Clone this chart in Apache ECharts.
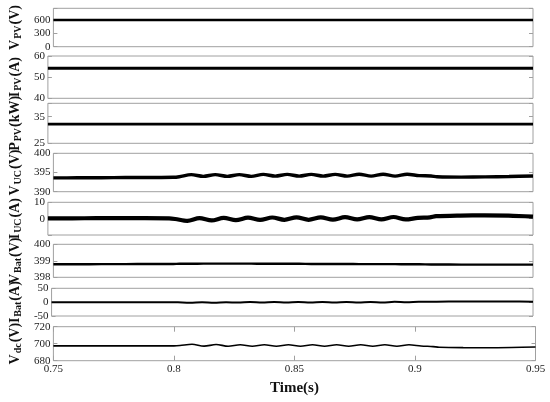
<!DOCTYPE html>
<html>
<head>
<meta charset="utf-8">
<script src="https://cdn.jsdelivr.net/npm/echarts@6/dist/echarts.min.js"></script>
<style>html,body{margin:0;padding:0;background:#fff}#c{width:550px;height:402px}</style>
</head>
<body>
<div id="c"></div>
<script>
const time = [0.75, 0.76, 0.77, 0.78, 0.79, 0.80, 0.8025,
  0.8075, 0.8125, 0.8175, 0.8225, 0.8275, 0.8325, 0.8375, 0.8425, 0.8475, 0.8525,
  0.8575, 0.8625, 0.8675, 0.8725, 0.8775, 0.8825, 0.8875, 0.8925, 0.8975,
  0.9025, 0.9075, 0.91, 0.92, 0.93, 0.94, 0.95];

const vPV = [600, 600, 600, 600, 600, 600, 600,
  600, 600, 600, 600, 600, 600, 600, 600, 600, 600,
  600, 600, 600, 600, 600, 600, 600, 600, 600,
  600, 600, 600, 600, 600, 600, 600];

const iPV = [54.2, 54.2, 54.2, 54.2, 54.2, 54.2, 54.2,
  54.2, 54.2, 54.2, 54.2, 54.2, 54.2, 54.2, 54.2, 54.2, 54.2,
  54.2, 54.2, 54.2, 54.2, 54.2, 54.2, 54.2, 54.2, 54.2,
  54.2, 54.2, 54.2, 54.2, 54.2, 54.2, 54.2];

const pPV = [32.2, 32.2, 32.2, 32.2, 32.2, 32.2, 32.2,
  32.2, 32.2, 32.2, 32.2, 32.2, 32.2, 32.2, 32.2, 32.2, 32.2,
  32.2, 32.2, 32.2, 32.2, 32.2, 32.2, 32.2, 32.2, 32.2,
  32.2, 32.2, 32.2, 32.2, 32.2, 32.2, 32.2];

const vUC = [393.6, 393.62, 393.65, 393.68, 393.7, 393.75, 393.9,
  394.45, 394.0, 394.45, 394.0, 394.45, 394.0, 394.5, 394.05, 394.5, 394.05,
  394.5, 394.05, 394.5, 394.05, 394.55, 394.05, 394.55, 394.05, 394.55,
  394.2, 394.1, 393.9, 393.8, 393.85, 393.95, 394.1];

const iUC = [0.2, 0.2, 0.3, 0.3, 0.3, 0.2, -0.2,
  -1.4, 0.3, -1.1, 0.5, -0.9, 0.6, -0.8, 0.7, -0.7, 0.8,
  -0.7, 0.8, -0.6, 0.9, -0.5, 0.9, -0.5, 1.0, -0.5,
  0.5, 0.8, 1.5, 1.9, 2.0, 1.8, 1.2];

const vBat = [398.79, 398.79, 398.8, 398.8, 398.81, 398.81, 398.82,
  398.82, 398.83, 398.83, 398.83, 398.83, 398.83, 398.82, 398.82, 398.82, 398.82,
  398.81, 398.81, 398.81, 398.81, 398.8, 398.8, 398.8, 398.8, 398.79,
  398.79, 398.78, 398.78, 398.77, 398.77, 398.77, 398.77];

const iBat = [0, 0, 0, 0, 0, 0, -0.5,
  -2.5, -0.5, -2.0, 0, -1.7, 0.3, -1.5, 0.5, -1.3, 0.6,
  -1.2, 0.7, -1.1, 0.8, -1.0, 0.9, -1.0, 1.0, -0.8,
  1.0, 1.2, 1.8, 2.2, 2.4, 2.2, 1.6];

const vDC = [697.5, 697.4, 697.5, 697.4, 697.4, 697.4, 697.8,
  699.4, 697.1, 699.0, 697.0, 698.8, 697.0, 698.8, 697.0, 698.8, 697.0,
  698.8, 697.0, 698.8, 697.0, 698.7, 697.0, 698.7, 697.0, 698.7,
  697.3, 696.6, 695.9, 695.4, 695.3, 695.6, 696.2];

const xTicks = [0.75, 0.8, 0.85, 0.9, 0.95];

const panels = [
  { main: 'V', sub: 'PV', unit: '(V)', data: vPV, min: 0, max: 865, interval: 300, labels: [0, 300, 600] },
  { main: 'I', sub: 'PV', unit: '(A)', data: iPV, min: 40, max: 60, interval: 10, labels: [40, 50, 60] },
  { main: 'P', sub: 'PV', unit: '(kW)', data: pPV, min: 25, max: 40, interval: 10, labels: [25, 35] },
  { main: 'V', sub: 'UC', unit: '(V)', data: vUC, min: 390, max: 400, interval: 5, labels: [390, 395, 400] },
  { main: 'I', sub: 'UC', unit: '(A)', data: iUC, min: -10, max: 10, interval: 10, labels: [0, 10] },
  { main: 'V', sub: 'Bat', unit: '(V)', data: vBat, min: 398, max: 400, interval: 1, labels: [398, 399, 400] },
  { main: 'I', sub: 'Bat', unit: '(A)', data: iBat, min: -50, max: 50, interval: 50, labels: [-50, 0, 50] },
  { main: 'V', sub: 'dc', unit: '(V)', data: vDC, min: 680, max: 720, interval: 20, labels: [680, 700, 720] }
];

const gridPos = [
  { top: 8.3, height: 38.4, right: 17 },
  { top: 56, height: 42.3, right: 17 },
  { top: 103.3, height: 40, right: 17 },
  { top: 153.3, height: 38.4, right: 17 },
  { top: 202.3, height: 32.7, right: 17 },
  { top: 244.3, height: 33, right: 17 },
  { top: 288.3, height: 27.7, right: 17 },
  { top: 326.7, height: 34, right: 14.5 }
];
const lineWidths = [2.6, 3, 2.6, 3.4, 4.2, 2.4, 2, 1.6];

const FONT = 'Liberation Serif';
const grids = [], xAxes = [], yAxes = [], series = [];

panels.forEach((p, i) => {
  const g = gridPos[i];
  grids.push({ left: 42, right: g.right, top: g.top, height: g.height, show: true,
    borderColor: '#a0a0a0', borderWidth: 1, backgroundColor: '#fff' });
  const last = i === panels.length - 1;
  xAxes.push({
    type: 'value', gridIndex: i, min: 0.75, max: 0.95, interval: 0.05,
    show: true,
    axisLine: { show: false },
    splitLine: { show: false },
    axisTick: { show: last, inside: true, length: 5, lineStyle: { color: '#a0a0a0' } },
    axisLabel: { show: last, fontFamily: FONT, fontSize: 11, color: '#222', margin: 3,
      formatter: v => (xTicks.some(t => Math.abs(t - v) < 1e-6) ? String(+v.toFixed(2)) : '') },
    name: last ? 'Time(s)' : '',
    nameLocation: 'middle', nameGap: 20,
    nameTextStyle: { fontFamily: FONT, fontSize: 15, fontWeight: 'bold', color: '#111' }
  });
  yAxes.push({
    type: 'value', gridIndex: i, min: p.min, max: p.max, interval: p.interval, position: 'left',
    axisLine: { show: false }, splitLine: { show: false },
    axisTick: { show: true, inside: true, length: 4, lineStyle: { color: '#a0a0a0' } },
    axisLabel: { fontFamily: FONT, fontSize: 11, color: '#222', margin: 3,
      formatter: v => (p.labels.indexOf(v) >= 0 ? String(v) : '') },
    name: '{m|' + p.main + '}{s|' + p.sub + '}{m|' + p.unit + '}',
    nameLocation: 'middle', nameRotate: 90, nameGap: 21,
    nameTextStyle: {
      rich: {
        m: { fontFamily: FONT, fontSize: 14, fontWeight: 'bold', color: '#111', lineHeight: 16 },
        s: { fontFamily: FONT, fontSize: 10, fontWeight: 'bold', color: '#111', lineHeight: 9,
             verticalAlign: 'bottom', padding: [0, 1, 0, 1] }
      }
    }
  });
  yAxes.push({
    type: 'value', gridIndex: i, min: p.min, max: p.max, interval: p.interval, position: 'right',
    axisLine: { show: false }, splitLine: { show: false },
    axisTick: { show: true, inside: true, length: 4, lineStyle: { color: '#a0a0a0' } },
    axisLabel: { show: false }
  });
  series.push({
    type: 'line', xAxisIndex: i, yAxisIndex: 2 * i,
    data: time.map((t, j) => [t, p.data[j]]),
    showSymbol: false, symbol: 'none', smooth: 0.3,
    lineStyle: { color: '#000', width: lineWidths[i] },
    animation: false
  });
});

// top ticks for the bottom panel
xAxes.push({
  type: 'value', gridIndex: 7, min: 0.75, max: 0.95, interval: 0.05, position: 'top',
  axisLine: { show: false }, splitLine: { show: false },
  axisTick: { show: true, inside: true, length: 5, lineStyle: { color: '#a0a0a0' } },
  axisLabel: { show: false }
});

const chart = echarts.init(document.getElementById('c'), null, { renderer: 'canvas' });
chart.setOption({
  animation: false,
  backgroundColor: '#fff',
  grid: grids, xAxis: xAxes, yAxis: yAxes, series: series
});
</script>
</body>
</html>
